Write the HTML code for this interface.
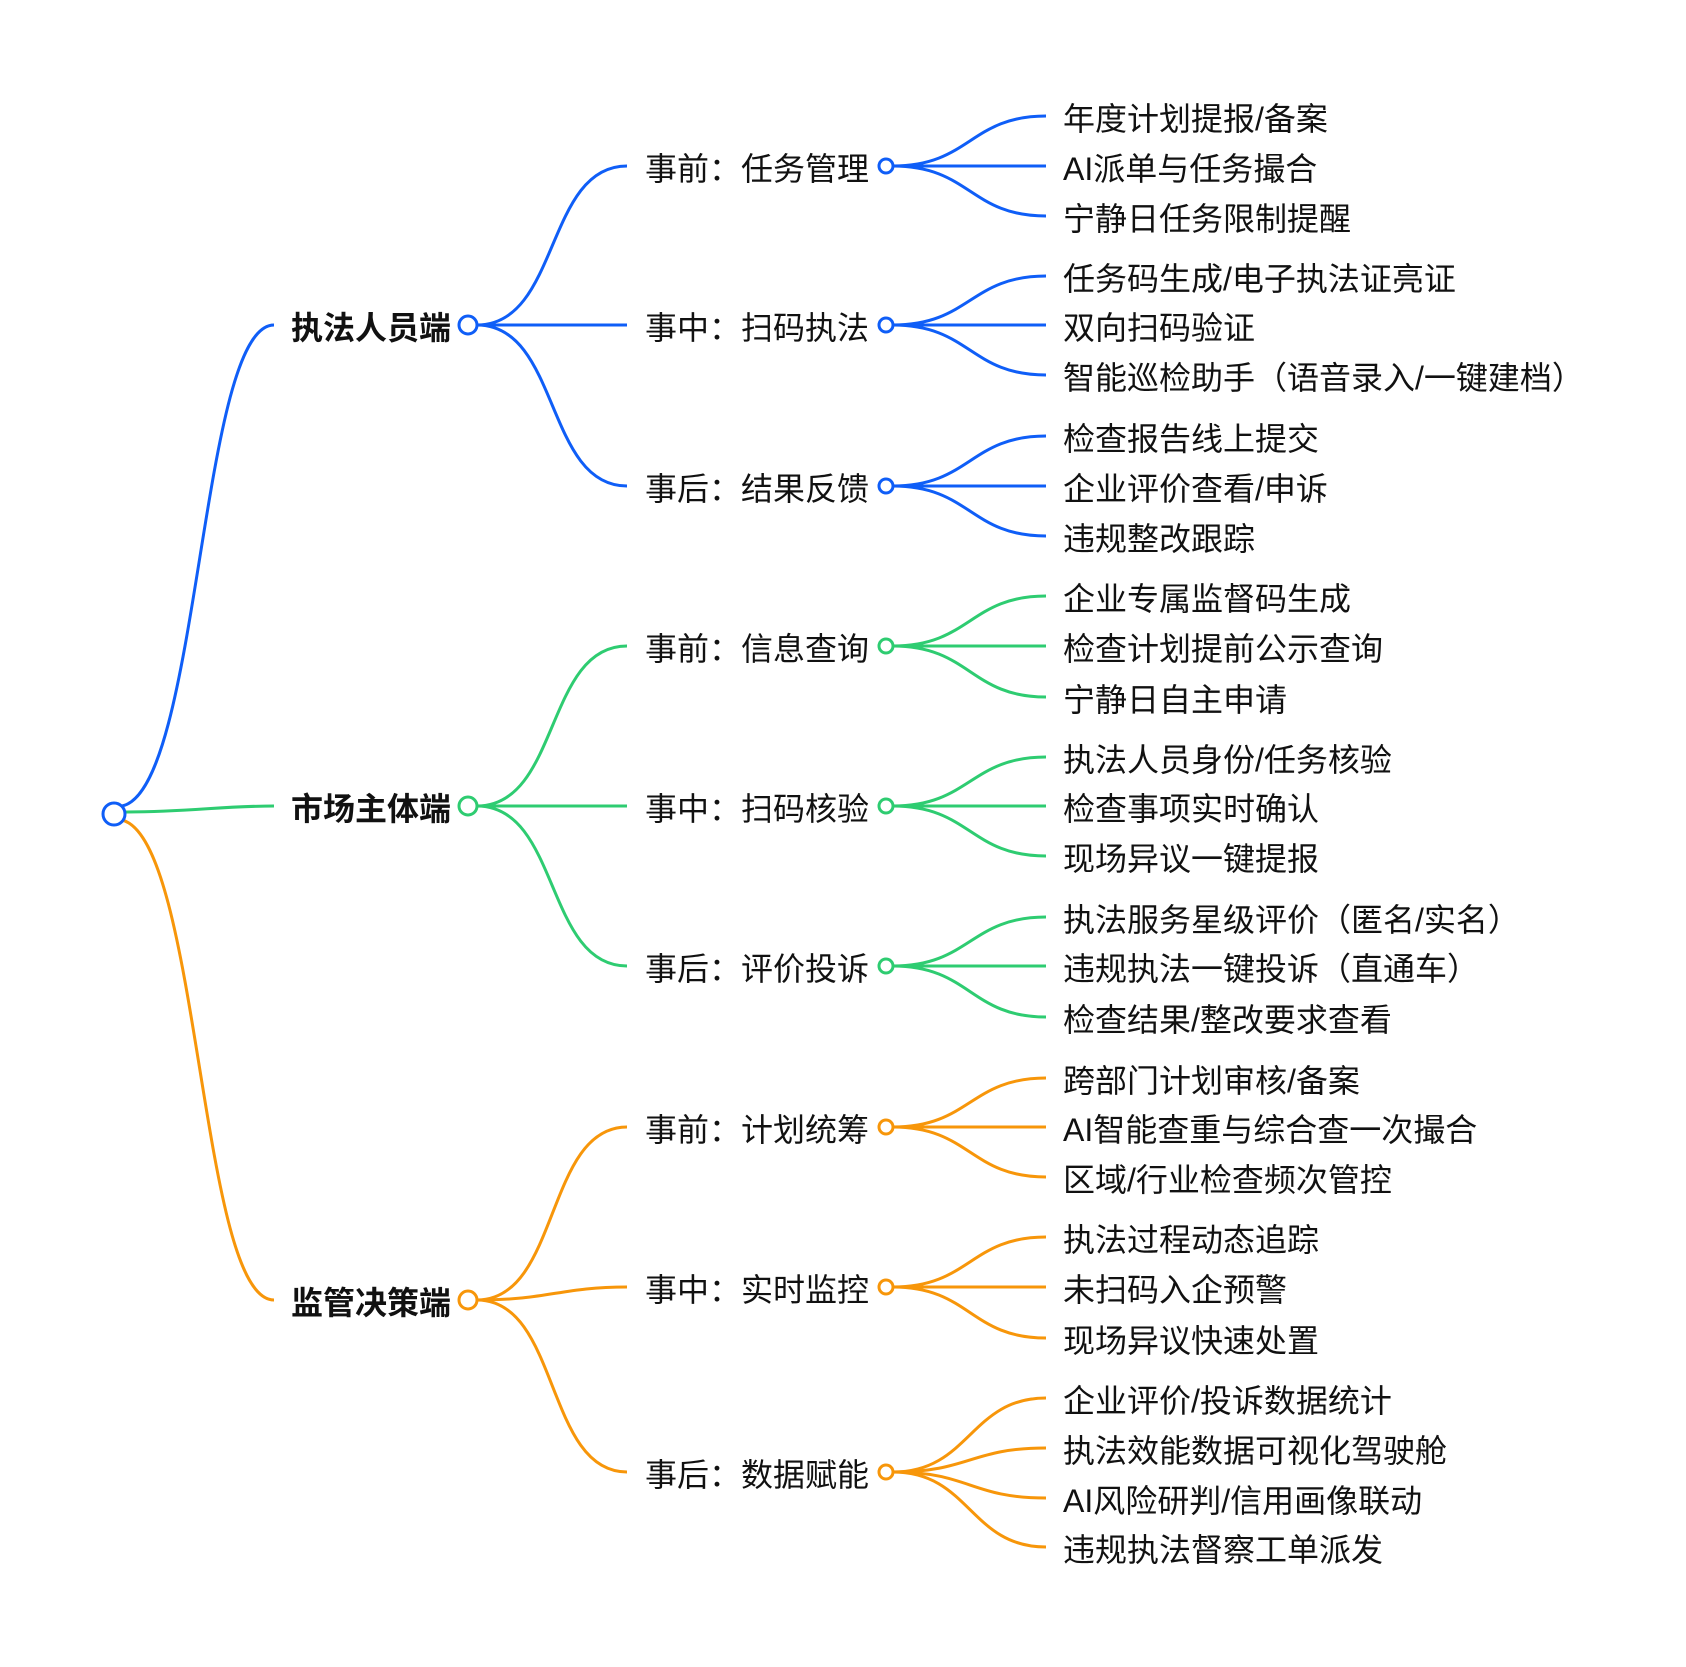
<!DOCTYPE html>
<html><head><meta charset="utf-8"><style>
html,body{margin:0;padding:0;background:#fff}
svg text{font-family:"Liberation Sans","Noto Sans CJK SC",sans-serif;font-size:32px;fill:#111;dominant-baseline:central}
.b{font-weight:bold}
path{fill:none;stroke-width:3}
circle{fill:#fff;stroke-width:3}
</style></head><body>
<svg width="1686" height="1662" viewBox="0 0 1686 1662" xmlns="http://www.w3.org/2000/svg">
<path d="M122,806 C200,790 200,325 274,325" stroke="#0f5ef7"/>
<path d="M124,812 C190,812 220,806 274,806" stroke="#2ecc71"/>
<path d="M122,820 C200,840 200,1300 274,1300" stroke="#f7960a"/>
<circle cx="114" cy="814" r="11" stroke="#0f5ef7"/>

<g transform="translate(0,3)">
<text class="b" x="291" y="325">执法人员端</text>
<text class="b" x="291" y="806">市场主体端</text>
<text class="b" x="291" y="1300">监管决策端</text>
</g>

<g stroke="#0f5ef7">
<path d="M477,325 C560,325 545,166 627,166"/>
<path d="M477,325 L627,325"/>
<path d="M477,325 C560,325 545,486 627,486"/>
<path d="M893,166 C970,166 970,116 1046,116"/><path d="M893,166 L1046,166"/><path d="M893,166 C970,166 970,216 1046,216"/>
<path d="M893,325 C970,325 970,276 1046,276"/><path d="M893,325 L1046,325"/><path d="M893,325 C970,325 970,375 1046,375"/>
<path d="M893,486 C970,486 970,436 1046,436"/><path d="M893,486 L1046,486"/><path d="M893,486 C970,486 970,536 1046,536"/>
<circle cx="468" cy="325" r="9"/>
<circle cx="886" cy="166" r="7"/><circle cx="886" cy="325" r="7"/><circle cx="886" cy="486" r="7"/>
</g>
<g stroke="#2ecc71">
<path d="M477,806 C560,806 545,646 627,646"/>
<path d="M477,806 L627,806"/>
<path d="M477,806 C560,806 545,966 627,966"/>
<path d="M893,646 C970,646 970,596 1046,596"/><path d="M893,646 L1046,646"/><path d="M893,646 C970,646 970,697 1046,697"/>
<path d="M893,806 C970,806 970,757 1046,757"/><path d="M893,806 L1046,806"/><path d="M893,806 C970,806 970,856 1046,856"/>
<path d="M893,966 C970,966 970,917 1046,917"/><path d="M893,966 L1046,966"/><path d="M893,966 C970,966 970,1017 1046,1017"/>
<circle cx="468" cy="806" r="9"/>
<circle cx="886" cy="646" r="7"/><circle cx="886" cy="806" r="7"/><circle cx="886" cy="966" r="7"/>
</g>
<g stroke="#f7960a">
<path d="M477,1300 C560,1300 545,1127 627,1127"/>
<path d="M477,1300 C550,1300 560,1287 627,1287"/>
<path d="M477,1300 C560,1300 545,1472 627,1472"/>
<path d="M893,1127 C970,1127 970,1078 1046,1078"/><path d="M893,1127 L1046,1127"/><path d="M893,1127 C970,1127 970,1177 1046,1177"/>
<path d="M893,1287 C970,1287 970,1237 1046,1237"/><path d="M893,1287 L1046,1287"/><path d="M893,1287 C970,1287 970,1338 1046,1338"/>
<path d="M893,1472 C970,1472 970,1398 1046,1398"/><path d="M893,1472 C970,1472 970,1448 1046,1448"/><path d="M893,1472 C970,1472 970,1498 1046,1498"/><path d="M893,1472 C970,1472 970,1547 1046,1547"/>
<circle cx="468" cy="1300" r="9"/>
<circle cx="886" cy="1127" r="7"/><circle cx="886" cy="1287" r="7"/><circle cx="886" cy="1472" r="7"/>
</g>

<g transform="translate(0,3)">
<text x="645" y="166">事前：任务管理</text>
<text x="645" y="325">事中：扫码执法</text>
<text x="645" y="486">事后：结果反馈</text>
<text x="645" y="646">事前：信息查询</text>
<text x="645" y="806">事中：扫码核验</text>
<text x="645" y="966">事后：评价投诉</text>
<text x="645" y="1127">事前：计划统筹</text>
<text x="645" y="1287">事中：实时监控</text>
<text x="645" y="1472">事后：数据赋能</text>

<text x="1063" y="116">年度计划提报/备案</text>
<text x="1063" y="166">AI派单与任务撮合</text>
<text x="1063" y="216">宁静日任务限制提醒</text>
<text x="1063" y="276">任务码生成/电子执法证亮证</text>
<text x="1063" y="325">双向扫码验证</text>
<text x="1063" y="375">智能巡检助手（语音录入/一键建档）</text>
<text x="1063" y="436">检查报告线上提交</text>
<text x="1063" y="486">企业评价查看/申诉</text>
<text x="1063" y="536">违规整改跟踪</text>
<text x="1063" y="596">企业专属监督码生成</text>
<text x="1063" y="646">检查计划提前公示查询</text>
<text x="1063" y="697">宁静日自主申请</text>
<text x="1063" y="757">执法人员身份/任务核验</text>
<text x="1063" y="806">检查事项实时确认</text>
<text x="1063" y="856">现场异议一键提报</text>
<text x="1063" y="917">执法服务星级评价（匿名/实名）</text>
<text x="1063" y="966">违规执法一键投诉（直通车）</text>
<text x="1063" y="1017">检查结果/整改要求查看</text>
<text x="1063" y="1078">跨部门计划审核/备案</text>
<text x="1063" y="1127">AI智能查重与综合查一次撮合</text>
<text x="1063" y="1177">区域/行业检查频次管控</text>
<text x="1063" y="1237">执法过程动态追踪</text>
<text x="1063" y="1287">未扫码入企预警</text>
<text x="1063" y="1338">现场异议快速处置</text>
<text x="1063" y="1398">企业评价/投诉数据统计</text>
<text x="1063" y="1448">执法效能数据可视化驾驶舱</text>
<text x="1063" y="1498">AI风险研判/信用画像联动</text>
<text x="1063" y="1547">违规执法督察工单派发</text>
</g>
</svg>
</body></html>
